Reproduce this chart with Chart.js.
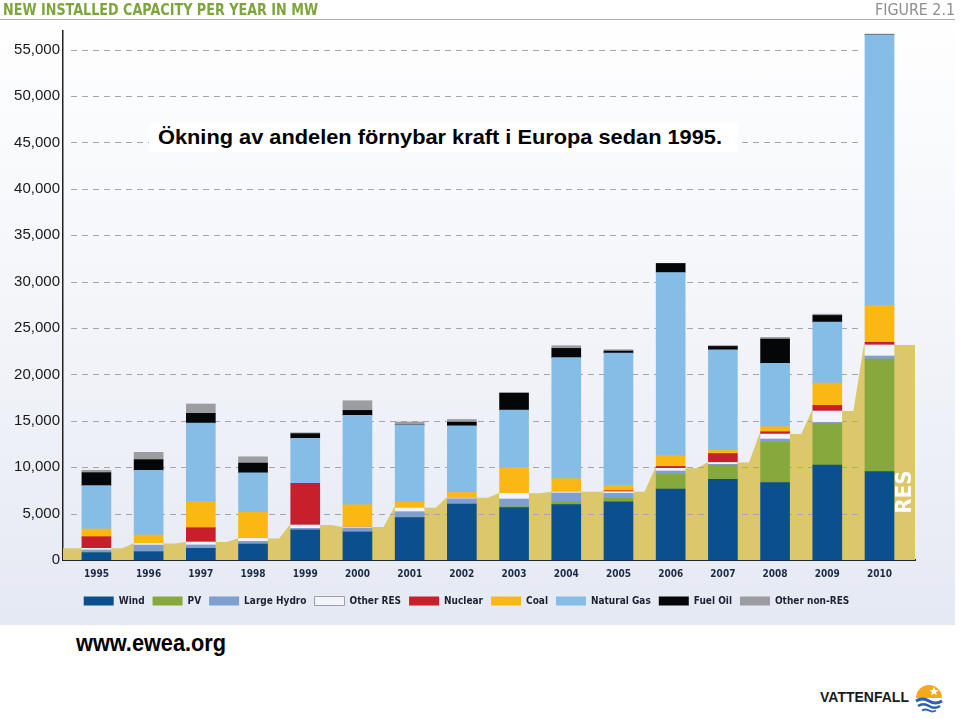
<!DOCTYPE html>
<html>
<head>
    <meta charset="utf-8">
    <title>New installed capacity per year in MW</title>
    <script src="https://cdn.jsdelivr.net/npm/chart.js@4.4.1/dist/chart.umd.min.js"></script>
    <style>
        body { margin: 0; background: #fff; font-family: "Liberation Sans", Arial, sans-serif; }
        #panel { position: absolute; left: 0; top: 0; width: 955px; height: 625px;
                 background: linear-gradient(#ffffff, #f4f6fa 45%, #e5e9f3); }
        #chartBox { position: absolute; left: 0; top: 0; width: 960px; height: 625px; }
        .fit { display: inline-block; white-space: nowrap; transform-origin: left center; }
        #head { position: absolute; left: 3px; top: 0px; color: #7ea43c; font-weight: bold;
                font-family: "Liberation Sans Narrow", "DejaVu Sans Condensed", sans-serif; font-size: 16px; }
        #fig { position: absolute; left: 875px; top: 0px; color: #8e8e8e;
               font-family: "Liberation Sans Narrow", "DejaVu Sans Condensed", sans-serif; font-size: 16px; }
        #rule { position: absolute; left: 0; top: 19px; width: 955px; height: 1px; background: #a9adb3; }
        #title { position: absolute; left: 149px; top: 123px; width: 589px; height: 29px; background: #fff; }
        #title span { position: absolute; left: 9px; top: 2px; font-weight: bold; font-size: 21px; color: #000; }
        #url { position: absolute; left: 76px; top: 630px; font-weight: bold; font-size: 23px; color: #000; }
        #vf { position: absolute; left: 820px; top: 688px; font-weight: bold; font-size: 15px; color: #1b1b1b; }
        #logo { position: absolute; left: 913px; top: 681px; }
    </style>
</head>

<body>
    <div id="panel"></div>
    <div id="chartBox"><canvas id="myChart" width="960" height="625"></canvas></div>
    <span id="head" class="fit" data-w="315">NEW INSTALLED CAPACITY PER YEAR IN MW</span>
    <span id="fig" class="fit" data-w="80">FIGURE 2.1</span>
    <div id="rule"></div>
    <div id="title"><span class="fit" data-w="564">Ökning av andelen förnybar kraft i Europa sedan 1995.</span></div>
    <span id="url" class="fit" data-w="150">www.ewea.org</span>
    <span id="vf" class="fit" data-w="89">VATTENFALL</span>
    <svg id="logo" width="32" height="32" viewBox="0 0 32 32">
        <path d="M3 17 A13 13 0 0 1 29 17 Z" fill="#f4a81d"/>
        <path d="M21 6 l1.3 3 3.2 .2 -2.5 2 .8 3.1 -2.8 -1.7 -2.8 1.7 .8 -3.1 -2.5 -2 3.2 -.2z" fill="#fff"/>
        <path d="M3 20 q6.5 -4 13 0 t13 0" stroke="#2a62ad" stroke-width="3" fill="none"/>
        <path d="M5 25 q5.5 -3.5 11 0 t11 0" stroke="#2a62ad" stroke-width="2.6" fill="none"/>
        <path d="M9 29.5 q3.5 -2 7 0 t7 0" stroke="#2a62ad" stroke-width="2" fill="none"/>
    </svg>

    <script>
        // MW per year
        const years = ['1995', '1996', '1997', '1998', '1999', '2000', '2001', '2002',
                       '2003', '2004', '2005', '2006', '2007', '2008', '2009', '2010'];
        const wind        = [790, 890, 1260, 1720, 3230, 3020, 4560, 6030, 5640, 5960, 6280, 7650, 8700, 8330, 10240, 9520];
        const pv          = [0, 0, 0, 0, 0, 0, 0, 0, 100, 290, 360, 1580, 1510, 4340, 4490, 12140];
        const largeHydro  = [290, 720, 360, 290, 180, 430, 650, 570, 830, 970, 540, 360, 100, 360, 100, 320];
        const otherRes    = [180, 180, 320, 320, 360, 100, 430, 100, 610, 140, 180, 290, 200, 540, 1220, 1190];
        const nuclear     = [1250, 0, 1540, 0, 4490, 0, 0, 0, 0, 0, 100, 200, 970, 250, 610, 290];
        const coal        = [830, 900, 2840, 2800, 0, 2400, 610, 570, 2770, 1400, 570, 1150, 320, 540, 2400, 3950];
        const naturalGas  = [4670, 6970, 8440, 4270, 4850, 9630, 8300, 7180, 6210, 13040, 14260, 19750, 10850, 6820, 6570, 29160];
        const fuelOil     = [1400, 1150, 1040, 1040, 500, 540, 0, 400, 1830, 1000, 220, 970, 360, 2620, 720, 0];
        const otherNonRes = [260, 790, 1010, 680, 100, 1040, 320, 290, 0, 290, 150, 0, 100, 180, 140, 100];

        const yTicks = [0, 5000, 10000, 15000, 20000, 25000, 30000, 35000, 40000, 45000, 50000, 55000];

        const series = [
            ['Wind', wind, '#0c4f8e'],
            ['PV', pv, '#86a83d'],
            ['Large Hydro', largeHydro, '#7f9fd0'],
            ['Other RES', otherRes, '#f1f4fa'],
            ['Nuclear', nuclear, '#c7202c'],
            ['Coal', coal, '#fbb814'],
            ['Natural Gas', naturalGas, '#86bde6'],
            ['Fuel Oil', fuelOil, '#050607'],
            ['Other non-RES', otherNonRes, '#9b9da1']
        ];

        const condensed = '"Liberation Sans Narrow", "DejaVu Sans Condensed", sans-serif';
        const xMin = -0.64, xMax = years.length - 0.32;

        // renewable total per year -> the khaki RES band behind the bars
        const resTotal = years.map((y, i) => wind[i] + pv[i] + largeHydro[i] + otherRes[i]);
        const resArea = [{x: xMin, y: resTotal[0]}];
        resTotal.forEach(function(v, i) {
            resArea.push({x: i - 0.3, y: v});
            resArea.push({x: i + 0.5, y: v});
        });
        resArea.push({x: xMax, y: resTotal[resTotal.length - 1]});

        const datasets = series.map(function(s) {
            return {
                type: 'bar',
                label: s[0],
                data: s[1].map((v, i) => ({x: i, y: v})),
                backgroundColor: s[2],
                borderWidth: 0,
                barThickness: 29,
                order: 0,
                stack: 'mix'
            };
        });
        datasets.push({
            type: 'line',
            label: 'RES',
            data: resArea,
            backgroundColor: '#dcc76b',
            borderWidth: 0,
            pointRadius: 0,
            fill: 'origin',
            tension: 0,
            order: 1,
            stack: 'res'
        });
        const areaIndex = datasets.length - 1;

        // dashed grid drawn over the RES band but under the bars
        const dashedGrid = {
            id: 'dashedGrid',
            afterLayout(chart) {
                // legend in the figure sits a little right of centre
                chart.legend.left += 9;
                chart.legend.right += 9;
            },
            afterDatasetDraw(chart, args) {
                if (args.index !== areaIndex) return;
                const ctx = chart.ctx, y = chart.scales.y, x = chart.scales.x;
                const left = chart.chartArea.left + 8;
                const right = x.getPixelForValue(years.length - 1) - 20;
                ctx.save();
                ctx.strokeStyle = '#a2a6ac';
                ctx.lineWidth = 1;
                ctx.setLineDash([6, 5]);
                yTicks.forEach(function(t) {
                    if (t === 0) return;
                    const py = Math.round(y.getPixelForValue(t)) + 0.5;
                    ctx.beginPath();
                    ctx.moveTo(left, py);
                    ctx.lineTo(right, py);
                    ctx.stroke();
                });
                ctx.restore();
            },
            afterDatasetsDraw(chart) {
                const ctx = chart.ctx, x = chart.scales.x;
                const cx = (x.getPixelForValue(years.length - 1) + 14.5 + chart.chartArea.right) / 2;
                const cy = chart.chartArea.bottom - 68;
                ctx.save();
                ctx.translate(cx, cy);
                ctx.rotate(-Math.PI / 2);
                ctx.fillStyle = '#ffffff';
                ctx.font = 'bold 22px ' + condensed;
                ctx.textAlign = 'center';
                ctx.textBaseline = 'middle';
                ctx.fillText('RES', 0, 1);
                ctx.restore();
            }
        };

        const ctx = document.getElementById('myChart').getContext('2d');
        const myChart = new Chart(ctx, {
            data: { datasets: datasets },
            plugins: [dashedGrid],
            options: {
                responsive: false,
                animation: false,
                devicePixelRatio: 1,
                layout: { padding: { left: 0, right: 45, top: 31, bottom: 9 } },
                scales: {
                    x: {
                        type: 'linear',
                        offset: false,
                        min: xMin,
                        max: xMax,
                        stacked: true,
                        afterBuildTicks: function(s) { s.ticks = years.map((y, i) => ({value: i})); },
                        ticks: {
                            autoSkip: false,
                            maxRotation: 0,
                            padding: 8,
                            color: '#1d2a47',
                            font: { family: condensed, size: 10, weight: 'bold' },
                            callback: v => years[v]
                        },
                        grid: { display: false, drawTicks: false },
                        border: { color: '#1b2740', width: 2 }
                    },
                    y: {
                        stacked: true,
                        min: 0,
                        max: 57000,
                        afterFit: function(s) { s.width = 63; },
                        afterBuildTicks: function(s) { s.ticks = yTicks.map(v => ({value: v})); },
                        ticks: {
                            padding: 3,
                            color: '#1a1a1a',
                            font: { family: '"Liberation Sans", Arial, sans-serif', size: 15 },
                            callback: v => v.toLocaleString('en-US')
                        },
                        grid: { display: false, drawTicks: false },
                        border: { color: '#222222', width: 1.5 }
                    }
                },
                plugins: {
                    tooltip: { enabled: false },
                    legend: {
                        position: 'bottom',
                        labels: {
                            boxWidth: 30,
                            boxHeight: 9,
                            padding: 8,
                            color: '#1c2233',
                            font: { family: condensed, size: 10, weight: 'bold' },
                            generateLabels: function(chart) {
                                const items = Chart.defaults.plugins.legend.labels.generateLabels(chart);
                                return items.filter(it => it.datasetIndex !== areaIndex).map(function(it) {
                                    it.lineWidth = it.text === 'Other RES' ? 1 : 0;
                                    it.strokeStyle = '#9aa0a8';
                                    return it;
                                });
                            }
                        }
                    }
                }
            }
        });

        // squeeze the html texts to the widths they have in the figure
        document.querySelectorAll('.fit').forEach(function(el) {
            const w = el.getBoundingClientRect().width;
            el.style.transform = 'scaleX(' + (el.dataset.w / w) + ')';
        });
    </script>
</body>

</html>
